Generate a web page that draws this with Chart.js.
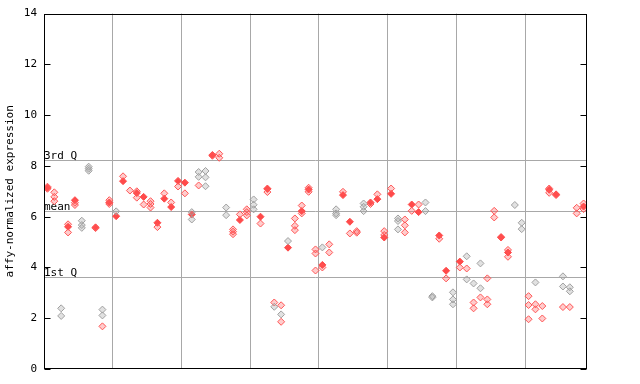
<!DOCTYPE html>
<html>
<head>
<meta charset="utf-8">
<script src="https://cdn.jsdelivr.net/npm/chart.js@4/dist/chart.umd.min.js"></script>
<style>
  html, body { margin: 0; padding: 0; background: #ffffff; }
  canvas { display: block; }
</style>
</head>
<body>
<canvas id="c" width="640" height="384"></canvas>
<script>
// ---- data (79 samples) ----
const sampleCount = 79;
const yTicks = [0, 2, 4, 6, 8, 10, 12, 14];
const quartileLabels = ["3rd Q", "mean", "1st Q"];
const quartileValues = [8.23, 6.23, 3.63];

// solid red marker per sample (null = none)
const filledRed = [7.14,null,null,5.6,6.65,null,null,5.58,null,6.56,
  6.02,7.40,null,6.93,6.78,null,5.76,6.71,6.38,7.41,
  7.34,6.09,null,null,8.43,null,null,null,5.87,null,
  null,6.0,7.09,null,null,4.78,null,6.22,7.07,null,
  4.1,null,null,6.85,5.8,null,null,6.56,6.69,5.18,
  6.9,null,null,6.48,6.18,null,null,5.26,3.87,null,
  4.23,null,null,null,null,null,5.18,4.59,null,null,
  null,null,null,7.06,6.88,null,null,null,6.4];

// hollow red replicates per sample
const hollowRed = [[7.1,7.18],[6.96,6.78,6.61],[],[5.7,5.38],[6.55,6.46],[],[],[5.55],[1.68],[6.65,6.5],
  [],[7.59],[7.03],[7.0,6.75],[6.48],[6.61,6.5,6.36],[5.59],[6.92],[6.56],[7.19],
  [6.92],[],[7.23],[],[8.4],[8.48,8.32],[],[5.5,5.41,5.31],[6.09],[6.29,6.18,6.05],
  [],[5.73],[7.11,6.97],[2.62],[2.51,1.86],[],[5.93,5.64,5.47],[6.44,6.13],[7.14,6.98],[4.71,4.55,3.88],
  [4.0],[4.91,4.59],[],[6.98],[5.34],[5.43,5.37],[],[6.5],[6.88],[5.43,5.28],
  [7.11],[],[5.89,5.66,5.38],[6.23],[6.48],[],[],[5.13],[3.57],[],
  [4.0],[3.96],[2.62,2.39],[2.82],[3.57,2.74,2.55],[6.23,5.97],[5.2],[4.69,4.42],[],[],
  [2.87,2.52,1.96],[2.55,2.35],[2.48,1.99],[7.11,6.94],[6.85],[2.44],[2.44],[6.35,6.13],[6.52,6.3]];

// hollow gray replicates per sample
const hollowGray = [[],[],[2.39,2.09],[],[],[5.84,5.67,5.56],[7.97,7.89,7.81],[],[2.34,2.11],[],
  [6.21],[],[],[],[],[],[],[],[],[],
  [],[6.18,5.89],[7.76,7.57],[7.8,7.55,7.2],[],[],[6.36,6.06],[],[],[],
  [6.68,6.47,6.29],[],[],[2.45],[2.15],[5.04],[],[],[],[],
  [4.79],[],[6.29,6.13,6.06],[],[],[],[6.52,6.39,6.22],[],[],[],
  [],[5.93,5.83,5.5],[],[],[],[6.56,6.22],[2.87,2.82],[],[],[3.02,2.74,2.55],
  [],[4.44,3.53],[3.37],[4.16,3.18],[],[],[],[],[6.46],[5.76,5.51],
  [],[3.41],[],[],[],[3.65,3.25],[3.22,3.06],[],[]];

// ---- build points ----
function toPoints(lists) {
  const pts = [];
  lists.forEach((vals, i) => vals.forEach(v => pts.push({x: i, y: v})));
  return pts;
}
const filledPts = [];
filledRed.forEach((v, i) => { if (v !== null) filledPts.push({x: i, y: v}); });

const MONO = '"DejaVu Sans Mono", "Liberation Mono", monospace';
const GRID = '#a8a8a8';

const overlay = {
  id: 'overlay',
  beforeDatasetsDraw(chart) {
    const {ctx, chartArea: a, scales} = chart;
    const y = scales.y;
    ctx.save();
    ctx.strokeStyle = GRID;
    ctx.lineWidth = 1;
    ctx.font = '11px ' + MONO;
    ctx.fillStyle = '#000';
    ctx.textBaseline = 'alphabetic';
    ctx.textAlign = 'left';
    quartileValues.forEach((q, k) => {
      const py = Math.round(y.getPixelForValue(q)) + 0.5;
      ctx.beginPath();
      ctx.moveTo(a.left, py);
      ctx.lineTo(a.right, py);
      ctx.stroke();
      ctx.fillText(quartileLabels[k], a.left, py - 1.5);
    });
    ctx.restore();
  },
  afterDraw(chart) {
    const {ctx, chartArea: a, scales} = chart;
    const y = scales.y;
    ctx.save();
    ctx.strokeStyle = '#000';
    ctx.lineWidth = 1;
    const L = Math.round(a.left) + 0.5, R = Math.round(a.right) - 0.5;
    const T = Math.round(a.top) + 0.5, B = Math.round(a.bottom) - 0.5;
    ctx.strokeRect(L, T, R - L, B - T);
    yTicks.forEach(v => {
      const py = Math.round(y.getPixelForValue(v)) + 0.5;
      ctx.beginPath();
      ctx.moveTo(L, py); ctx.lineTo(L + 6, py);
      ctx.moveTo(R, py); ctx.lineTo(R - 6, py);
      ctx.stroke();
    });
    ctx.restore();
  }
};

new Chart(document.getElementById('c'), {
  type: 'scatter',
  data: {
    datasets: [
      { label: 'gray', data: toPoints(hollowGray), pointStyle: 'rectRot', pointRadius: 3.5,
        borderColor: '#a0a0a0', backgroundColor: 'rgba(170,170,170,0.35)', borderWidth: 1 },
      { label: 'red', data: toPoints(hollowRed), pointStyle: 'rectRot', pointRadius: 3.5,
        borderColor: '#ff5555', backgroundColor: 'rgba(255,85,85,0.3)', borderWidth: 1 },
      { label: 'filled', data: filledPts, pointStyle: 'rectRot', pointRadius: 3.5,
        borderColor: '#ff4a4a', backgroundColor: '#ff4a4a', borderWidth: 1 }
    ]
  },
  options: {
    responsive: false,
    animation: false,
    devicePixelRatio: 1,
    layout: { padding: { top: 13, right: 0, bottom: 0, left: 0 } },
    plugins: { legend: { display: false }, tooltip: { enabled: false } },
    scales: {
      x: {
        type: 'linear', min: -0.5, max: sampleCount - 0.5,
        ticks: { display: false },
        grid: { color: GRID, lineWidth: 1, drawTicks: false },
        border: { display: false },
        afterBuildTicks(scale) {
          const t = [];
          for (let k = 10; k < sampleCount; k += 10) t.push({ value: k - 0.5 });
          scale.ticks = t;
        },
        afterFit(scale) { scale.height = 15; }
      },
      y: {
        position: 'left', min: 0, max: 14,
        afterBuildTicks(scale) { scale.ticks = yTicks.map(v => ({ value: v })); },
        ticks: { color: '#000', font: { family: MONO, size: 11 }, padding: 7 },
        grid: { display: false, drawTicks: false },
        border: { display: false },
        title: { display: true, text: 'affy-normalized expression', color: '#000',
                 font: { family: MONO, size: 11 }, padding: { top: 4, bottom: 0 } },
        afterFit(scale) { scale.width = 44; }
      },
      y2: {
        position: 'right', min: 0, max: 14,
        ticks: { display: false },
        grid: { display: false, drawTicks: false },
        border: { display: false },
        afterFit(scale) { scale.width = 53; }
      }
    }
  },
  plugins: [overlay]
});
</script>
</body>
</html>
